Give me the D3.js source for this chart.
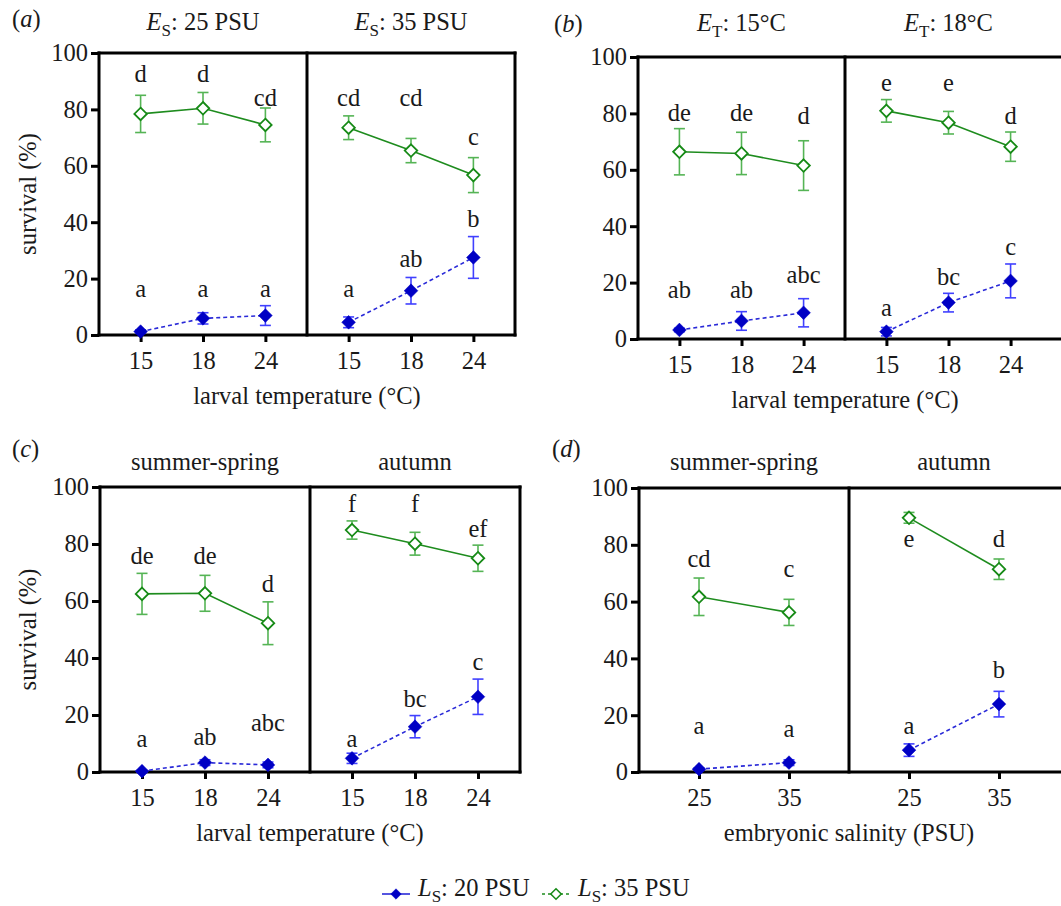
<!DOCTYPE html>
<html><head><meta charset="utf-8">
<script src="https://cdn.jsdelivr.net/npm/d3@7"></script>
<style>
body{margin:0;background:#fff}
svg{display:block}
text{font-family:"Liberation Serif","Times New Roman",serif;fill:#1a1a1a}
</style>
</head><body>
<svg id="chart" width="1061" height="906"></svg>
<script>
// ---------------- DATA ----------------
const xCatsTemp = ['15','18','24'];
const xCatsSal = ['25','35'];
const yTicks = [0, 20, 40, 60, 80, 100];
const legendLabels = ['L_S: 20 PSU', 'L_S: 35 PSU'];

// panel (a)
const aTitles = ['E_S: 25 PSU', 'E_S: 35 PSU'];
const aGreen = [[78.4, 80.4, 74.5], [73.5, 65.4, 56.7]];
const aGreenErr = [[6.6, 5.6, 6.0], [4.2, 4.3, 6.2]];
const aBlue = [[1.2, 5.9, 6.9], [4.5, 15.7, 27.5]];
const aBlueErr = [[0.6, 2.0, 3.5], [1.9, 4.7, 7.4]];
const aGreenLetters = [['d', 'd', 'cd'], ['cd', 'cd', 'c']];
const aGreenLetterY = [[89.7, 89.7, 81.2], [81.2, 81.2, 67.4]];
const aBlueLetters = [['a', 'a', 'a'], ['a', 'ab', 'b']];
const aBlueLetterY = [[13.4, 13.4, 13.4], [13.4, 24.2, 38.2]];

// panel (b)
const bTitles = ['E_T: 15°C', 'E_T: 18°C'];
const bGreen = [[66.4, 65.8, 61.5], [80.9, 76.7, 68.2]];
const bGreenErr = [[8.2, 7.5, 8.8], [4.0, 4.0, 5.2]];
const bBlue = [[3.2, 6.4, 9.3], [2.6, 12.9, 20.6]];
const bBlueErr = [[0.6, 3.3, 5.0], [1.5, 3.3, 6.0]];
const bGreenLetters = [['de', 'de', 'd'], ['e', 'e', 'd']];
const bGreenLetterY = [[77.4, 77.4, 76.1], [88.0, 88.0, 76.1]];
const bBlueLetters = [['ab', 'ab', 'abc'], ['a', 'bc', 'c']];
const bBlueLetterY = [[14.4, 14.4, 19.7], [8.3, 19.1, 29.8]];

// panel (c)
const cTitles = ['summer-spring', 'autumn'];
const cGreen = [[62.5, 62.7, 52.2], [84.9, 80.1, 75.0]];
const cGreenErr = [[7.2, 6.3, 7.5], [3.2, 4.0, 4.6]];
const cBlue = [[0.3, 3.3, 2.5], [4.8, 15.9, 26.4]];
const cBlueErr = [[0.3, 1.0, 1.0], [1.8, 3.9, 6.2]];
const cGreenLetters = [['de', 'de', 'd'], ['f', 'f', 'ef']];
const cGreenLetterY = [[73.0, 73.0, 63.3], [91.3, 91.3, 82.6]];
const cBlueLetters = [['a', 'ab', 'abc'], ['a', 'bc', 'c']];
const cBlueLetterY = [[8.9, 9.5, 14.5], [8.9, 22.9, 35.8]];

// panel (d)
const dTitles = ['summer-spring', 'autumn'];
const dGreen = [[61.7, 56.2], [89.5, 71.4]];
const dGreenErr = [[6.6, 4.6], [1.9, 3.6]];
const dBlue = [[1.0, 3.3], [7.7, 23.9]];
const dBlueErr = [[0.4, 1.0], [2.2, 4.5]];
const dGreenLetters = [['cd', 'c'], ['e', 'd']];
const dGreenLetterY = [[72.3, 68.5], [79.3, 79.3]];
const dBlueLetters = [['a', 'a'], ['a', 'b']];
const dBlueLetterY = [[13.3, 12.2], [13.3, 33.0]];

// ---------------- STYLE / LAYOUT ----------------
const FS = 24.5;
const GREEN_LINE = '#1e8c1e', GREEN_ERR = '#55b455', GREEN_MARK = '#168a16';
const BLUE_LINE = '#2a2ad8', BLUE_ERR = '#4040ff', BLUE_MARK = '#0000c4';

const panels = [
  {tag: 'a', tagX: 12, tagY: 27, titles: aTitles, titleY: 30, cats: xCatsTemp, xTitle: 'larval temperature (°C)',
   left: 99, top: 53, bottom: 335, W: 208, closed: true, yTitle: true,
   green: aGreen, greenErr: aGreenErr, blue: aBlue, blueErr: aBlueErr,
   gL: aGreenLetters, gLY: aGreenLetterY, bL: aBlueLetters, bLY: aBlueLetterY},
  {tag: 'b', tagX: 554, tagY: 32, titles: bTitles, titleY: 31, cats: xCatsTemp, xTitle: 'larval temperature (°C)',
   left: 638, top: 57, bottom: 339, W: 207, closed: false, yTitle: false,
   green: bGreen, greenErr: bGreenErr, blue: bBlue, blueErr: bBlueErr,
   gL: bGreenLetters, gLY: bGreenLetterY, bL: bBlueLetters, bLY: bBlueLetterY},
  {tag: 'c', tagX: 12, tagY: 457, titles: cTitles, titleY: 470, cats: xCatsTemp, xTitle: 'larval temperature (°C)',
   left: 100, top: 487, bottom: 772, W: 210, closed: true, yTitle: true,
   green: cGreen, greenErr: cGreenErr, blue: cBlue, blueErr: cBlueErr,
   gL: cGreenLetters, gLY: cGreenLetterY, bL: cBlueLetters, bLY: cBlueLetterY},
  {tag: 'd', tagX: 552, tagY: 457, titles: dTitles, titleY: 470, cats: xCatsSal, xTitle: 'embryonic salinity (PSU)',
   left: 639, top: 488, bottom: 772, W: 210, closed: false, yTitle: false,
   green: dGreen, greenErr: dGreenErr, blue: dBlue, blueErr: dBlueErr,
   gL: dGreenLetters, gLY: dGreenLetterY, bL: dBlueLetters, bLY: dBlueLetterY}
];

const svg = d3.select('#chart');

function rich(t, label, subSize) {
  const m = label.match(/^(.)_(.)(.*)$/);
  if (!m) { t.text(label); return; }
  t.append('tspan').attr('font-style', 'italic').text(m[1]);
  t.append('tspan').attr('font-size', subSize || 17).attr('dy', 6).text(m[2]);
  t.append('tspan').attr('dy', -6).text(m[3]);
}

const diamond = d3.symbol().type(d3.symbolDiamond2);

function drawPanel(p) {
  const g = svg.append('g');
  const y = d3.scaleLinear().domain([0, 100]).range([p.bottom, p.top]);
  const xs = [0, 1].map(i => d3.scalePoint().domain(p.cats)
      .range([p.left + i * p.W, p.left + (i + 1) * p.W]).padding(0.667));
  const right = p.closed ? p.left + 2 * p.W : 1075;

  // y axis ticks + labels
  const ya = g.append('g').attr('transform', `translate(${p.left},0)`)
    .call(d3.axisLeft(y).tickValues(yTicks).tickSize(8).tickPadding(3));
  ya.select('.domain').remove();
  ya.selectAll('.tick line').attr('stroke', '#000').attr('stroke-width', 3);
  ya.selectAll('.tick text').attr('font-size', FS).attr('font-family', '"Liberation Serif",serif').attr('fill', '#1a1a1a');

  // x axes
  xs.forEach(x => {
    const xa = g.append('g').attr('transform', `translate(0,${p.bottom})`)
      .call(d3.axisBottom(x).tickSize(7).tickPadding(10));
    xa.select('.domain').remove();
    xa.selectAll('.tick line').attr('stroke', '#000').attr('stroke-width', 3);
    xa.selectAll('.tick text').attr('font-size', FS).attr('font-family', '"Liberation Serif",serif').attr('fill', '#1a1a1a');
  });

  // frame
  const fr = g.append('g').attr('stroke', '#000').attr('stroke-width', 3).attr('stroke-linecap', 'square');
  fr.append('line').attr('x1', p.left).attr('x2', right).attr('y1', p.top).attr('y2', p.top);
  fr.append('line').attr('x1', p.left).attr('x2', right).attr('y1', p.bottom).attr('y2', p.bottom);
  fr.append('line').attr('x1', p.left).attr('x2', p.left).attr('y1', p.top).attr('y2', p.bottom);
  if (p.closed) fr.append('line').attr('x1', right).attr('x2', right).attr('y1', p.top).attr('y2', p.bottom);
  fr.append('line').attr('x1', p.left + p.W).attr('x2', p.left + p.W).attr('y1', p.top).attr('y2', p.bottom);

  // series
  const series = [
    {vals: p.green, errs: p.greenErr, letters: p.gL, ly: p.gLY, line: GREEN_LINE, err: GREEN_ERR, mark: GREEN_MARK, dash: null, filled: false},
    {vals: p.blue, errs: p.blueErr, letters: p.bL, ly: p.bLY, line: BLUE_LINE, err: BLUE_ERR, mark: BLUE_MARK, dash: '4,3', filled: true}
  ];
  series.forEach(s => {
    [0, 1].forEach(i => {
      const x = xs[i];
      const pts = p.cats.map((c, j) => ({c, v: s.vals[i][j], e: s.errs[i][j], l: s.letters[i][j], ly: s.ly[i][j]}));
      const line = d3.line().x(d => x(d.c)).y(d => y(d.v));
      g.append('path').datum(pts).attr('d', line).attr('fill', 'none')
        .attr('stroke', s.line).attr('stroke-width', 1.6).attr('stroke-dasharray', s.dash);
      const eb = g.append('g').attr('stroke', s.err).attr('stroke-width', 1.6);
      pts.forEach(d => {
        eb.append('line').attr('x1', x(d.c)).attr('x2', x(d.c)).attr('y1', y(d.v + d.e)).attr('y2', y(d.v - d.e));
        eb.append('line').attr('x1', x(d.c) - 5.5).attr('x2', x(d.c) + 5.5).attr('y1', y(d.v + d.e)).attr('y2', y(d.v + d.e));
        eb.append('line').attr('x1', x(d.c) - 5.5).attr('x2', x(d.c) + 5.5).attr('y1', y(d.v - d.e)).attr('y2', y(d.v - d.e));
      });
      g.selectAll(null).data(pts).enter().append('path')
        .attr('d', diamond.size(s.filled ? 120 : 100)())
        .attr('transform', d => `translate(${x(d.c)},${y(d.v)})`)
        .attr('fill', s.filled ? s.mark : '#fff')
        .attr('stroke', s.mark).attr('stroke-width', s.filled ? 0.5 : 1.8);
      g.selectAll(null).data(pts).enter().append('text')
        .attr('x', d => x(d.c)).attr('y', d => y(d.ly))
        .attr('text-anchor', 'middle').attr('font-size', FS).text(d => d.l);
    });
  });

  // titles
  p.titles.forEach((t, i) => {
    const tx = g.append('text').attr('x', p.left + (i + 0.5) * p.W).attr('y', p.titleY)
      .attr('text-anchor', 'middle').attr('font-size', FS);
    rich(tx, t);
  });
  // tag
  const tg = g.append('text').attr('x', p.tagX).attr('y', p.tagY).attr('font-size', FS);
  tg.append('tspan').text('(');
  tg.append('tspan').attr('font-style', 'italic').text(p.tag);
  tg.append('tspan').text(')');
  // x title
  g.append('text').attr('x', p.left + p.W).attr('y', p.bottom + 69)
    .attr('text-anchor', 'middle').attr('font-size', FS).text(p.xTitle);
  // y title
  if (p.yTitle) {
    g.append('text').attr('transform', `translate(36,${(p.top + p.bottom) / 2}) rotate(-90)`)
      .attr('text-anchor', 'middle').attr('font-size', FS).text('survival (%)');
  }
}

panels.forEach(drawPanel);

// legend
const leg = svg.append('g');
const legItems = [
  {label: legendLabels[0], x: 382, color: BLUE_LINE, mark: BLUE_MARK, dash: null, filled: true},
  {label: legendLabels[1], x: 542, color: GREEN_LINE, mark: GREEN_MARK, dash: '3,3', filled: false}
];
legItems.forEach(it => {
  leg.append('line').attr('x1', it.x).attr('x2', it.x + 28).attr('y1', 894).attr('y2', 894)
    .attr('stroke', it.color).attr('stroke-width', 1.6).attr('stroke-dasharray', it.dash);
  leg.append('path').attr('d', diamond.size(70)())
    .attr('transform', `translate(${it.x + 14},894)`)
    .attr('fill', it.filled ? it.mark : '#fff').attr('stroke', it.mark).attr('stroke-width', it.filled ? 0.5 : 1.5);
  const t = leg.append('text').attr('x', it.x + 36).attr('y', 896).attr('font-size', FS);
  rich(t, it.label);
});
</script>
</body></html>
